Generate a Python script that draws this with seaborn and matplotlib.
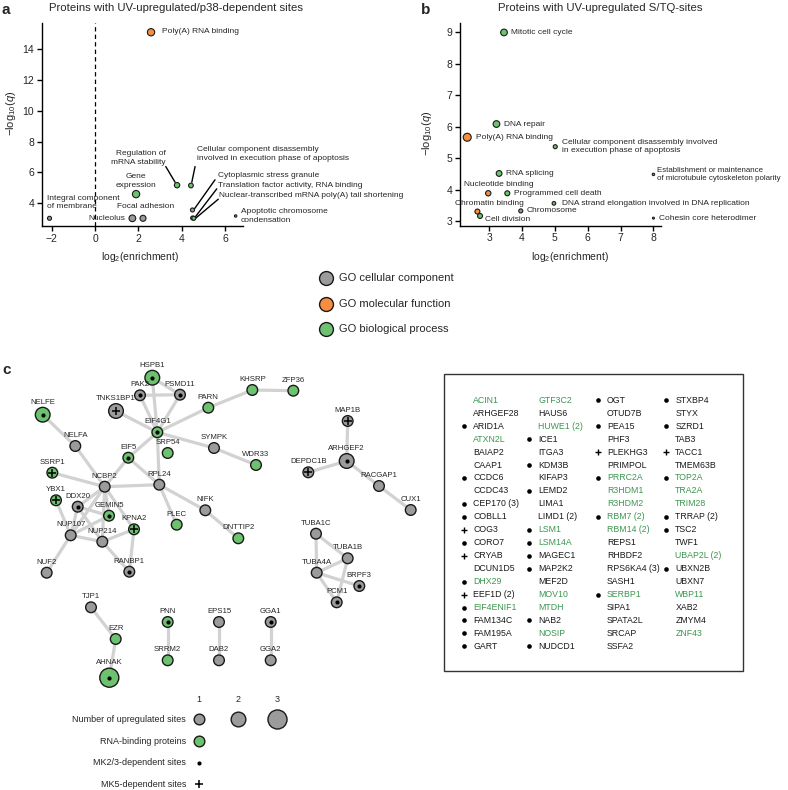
import matplotlib
matplotlib.use("Agg")
import numpy as np
import pandas as pd
import matplotlib.pyplot as plt
import seaborn as sns
from matplotlib.patches import Rectangle

sns.set_style("ticks")
plt.rcParams["font.family"] = ["Liberation Sans", "DejaVu Sans"]
plt.rcParams["mathtext.fontset"] = "custom"
plt.rcParams["mathtext.rm"] = "Liberation Sans"
plt.rcParams["mathtext.it"] = "Liberation Sans:italic"

GREY, ORANGE, GREEN = "#9b9b9b", "#f78d3f", "#6cc26f"
TXT_GREEN = "#3c9650"
GO_PAL = {"cc": GREY, "mf": ORANGE, "bp": GREEN}

# ---- panel a: UV-upregulated / p38-dependent sites
a_terms = ["Integral component of membrane", "Nucleolus", "Focal adhesion", "Gene expression",
           "Poly(A) RNA binding", "Regulation of mRNA stability", "Cellular component disassembly",
           "Cytoplasmic stress granule", "Translation factor activity, RNA binding",
           "Nuclear-transcribed mRNA poly(A) tail shortening", "Apoptotic chromosome condensation"]
a_enrich = [-2.1, 1.72, 2.21, 1.89, 2.58, 3.78, 4.42, 4.49, 4.50, 4.55, 6.48]
a_logq = [3.02, 3.02, 3.02, 4.59, 15.1, 5.17, 5.15, 3.56, 3.04, 3.02, 3.17]
a_type = ["cc", "cc", "cc", "bp", "mf", "bp", "bp", "cc", "mf", "bp", "bp"]
a_n = [14, 44, 35, 53, 53, 27, 20, 14, 14, 14, 3]

# ---- panel b: UV-upregulated S/TQ sites
b_terms = ["Mitotic cell cycle", "DNA repair", "Poly(A) RNA binding", "Cellular component disassembly",
           "Establishment or maintenance", "RNA splicing", "Nucleotide binding", "Programmed cell death",
           "DNA strand elongation", "Chromatin binding", "Cell division", "Chromosome",
           "Cohesin core heterodimer"]
b_enrich = [3.45, 3.22, 2.33, 5.01, 8.0, 3.30, 2.97, 3.55, 4.97, 2.64, 2.72, 3.96, 8.0]
b_logq = [8.99, 6.08, 5.66, 5.36, 4.48, 4.51, 3.88, 3.88, 3.56, 3.30, 3.16, 3.32, 3.09]
b_type = ["bp", "bp", "mf", "bp", "bp", "bp", "mf", "bp", "bp", "mf", "bp", "cc", "cc"]
b_n = [44, 44, 64, 14, 3, 32, 27, 23, 11, 23, 23, 14, 1]

# ---- panel c: network
node_names = ["HSPB1", "PAK2", "PSMD11", "TNKS1BP1", "NELFE", "EIF4G1", "PARN", "KHSRP", "ZFP36",
              "MAP1B", "NELFA", "EIF5", "SRP54", "SYMPK", "WDR33", "ARHGEF2", "DEPDC1B", "RACGAP1",
              "CUX1", "SSRP1", "NCBP2", "RPL24", "YBX1", "DDX20", "GEMIN5", "KPNA2", "NIFK", "PLEC",
              "DNTTIP2", "NUP107", "NUP214", "NUF2", "RANBP1", "TUBA1C", "TUBA1B", "TUBA4A", "BRPF3",
              "PCM1", "TJP1", "EZR", "AHNAK", "PNN", "SRRM2", "EPS15", "DAB2", "GGA1", "GGA2"]
node_x = [152.3, 140, 180, 116, 42.7, 157.3, 208.3, 252.3, 293.3, 347.7, 75.3, 128.3, 167.7, 214,
          256, 346.7, 308.3, 379, 410.7, 52.3, 104.7, 159.3, 56, 77.7, 109, 134, 205.3, 176.7,
          238.3, 70.7, 102.3, 46.7, 129.3, 316, 347.7, 316.7, 359.3, 336.7, 91, 115.7, 109.3,
          167.7, 167.7, 219, 219, 270.7, 270.7]
node_y = [377.7, 395.3, 394.7, 411, 414.7, 432.3, 407.7, 390, 390.7, 421, 446, 457.7, 453, 448,
          465, 461, 472.3, 486, 510, 472.7, 486.7, 484.7, 500.3, 506.7, 515.7, 529.3, 510.3, 524.7,
          538.3, 535.3, 541.7, 572.7, 571.7, 533.7, 558.3, 572.7, 586, 602.3, 607.3, 639, 677.7,
          622, 660.3, 622, 660.3, 622, 660.3]
node_rbp = [1, 0, 0, 0, 1, 1, 1, 1, 1, 0, 0, 1, 1, 0, 1, 0, 0, 0, 0, 1, 0, 0, 1, 0, 1, 1, 0, 1,
            1, 0, 0, 0, 0, 0, 0, 0, 0, 0, 0, 1, 1, 1, 1, 0, 0, 0, 0]
node_sites = [2, 1, 1, 2, 2, 1, 1, 1, 1, 1, 1, 1, 1, 1, 1, 2, 1, 1, 1, 1, 1, 1, 1, 1, 1, 1, 1, 1,
              1, 1, 1, 1, 1, 1, 1, 1, 1, 1, 1, 1, 3, 1, 1, 1, 1, 1, 1]
node_mk = ["dot", "dot", "dot", "plus", "dot", "dot", "", "", "", "plus", "", "dot", "", "", "",
           "dot", "plus", "", "", "plus", "", "", "plus", "dot", "dot", "plus", "", "", "", "", "",
           "", "dot", "", "", "", "dot", "dot", "", "", "dot", "dot", "", "", "", "dot", ""]
edges = [("HSPB1", "EIF4G1"), ("HSPB1", "PSMD11"), ("PAK2", "PSMD11"), ("PAK2", "EIF4G1"),
         ("PSMD11", "EIF4G1"), ("TNKS1BP1", "EIF4G1"), ("EIF4G1", "PARN"), ("PARN", "KHSRP"),
         ("KHSRP", "ZFP36"), ("EIF4G1", "SYMPK"), ("SYMPK", "WDR33"), ("EIF4G1", "RPL24"),
         ("EIF4G1", "EIF5"), ("EIF5", "NCBP2"), ("EIF5", "RPL24"), ("NELFE", "NELFA"),
         ("NELFA", "NCBP2"), ("SSRP1", "NCBP2"), ("NCBP2", "RPL24"), ("RPL24", "PLEC"),
         ("RPL24", "NIFK"), ("NIFK", "DNTTIP2"), ("NCBP2", "DDX20"), ("NCBP2", "NUP107"),
         ("NCBP2", "GEMIN5"), ("NCBP2", "NUP214"), ("NCBP2", "KPNA2"), ("DDX20", "NUP214"),
         ("DDX20", "GEMIN5"), ("DDX20", "NUP107"), ("NUP107", "NUP214"), ("NUP107", "GEMIN5"),
         ("YBX1", "NUP107"), ("NUP107", "NUF2"), ("NUP214", "KPNA2"), ("NUP214", "RANBP1"),
         ("KPNA2", "RANBP1"), ("MAP1B", "ARHGEF2"), ("ARHGEF2", "DEPDC1B"), ("ARHGEF2", "RACGAP1"),
         ("RACGAP1", "CUX1"), ("TUBA1C", "TUBA4A"), ("TUBA1C", "TUBA1B"), ("TUBA4A", "TUBA1B"),
         ("TUBA4A", "BRPF3"), ("TUBA4A", "PCM1"), ("TUBA1B", "PCM1"), ("TJP1", "EZR"),
         ("EZR", "AHNAK"), ("PNN", "SRRM2"), ("EPS15", "DAB2"), ("GGA1", "GGA2")]

# ---- panel c: proteins without network partners
box_genes = ["ACIN1", "ARHGEF28", "ARID1A", "ATXN2L", "BAIAP2", "CAAP1", "CCDC6", "CCDC43",
             "CEP170 (3)", "COBLL1", "COG3", "CORO7", "CRYAB", "DCUN1D5", "DHX29", "EEF1D (2)",
             "EIF4ENIF1", "FAM134C", "FAM195A", "GART",
             "GTF3C2", "HAUS6", "HUWE1 (2)", "ICE1", "ITGA3", "KDM3B", "KIFAP3", "LEMD2", "LIMA1",
             "LIMD1 (2)", "LSM1", "LSM14A", "MAGEC1", "MAP2K2", "MEF2D", "MOV10", "MTDH", "NAB2",
             "NOSIP", "NUDCD1",
             "OGT", "OTUD7B", "PEA15", "PHF3", "PLEKHG3", "PRIMPOL", "PRRC2A", "R3HDM1", "R3HDM2",
             "RBM7 (2)", "RBM14 (2)", "REPS1", "RHBDF2", "RPS6KA4 (3)", "SASH1", "SERBP1", "SIPA1",
             "SPATA2L", "SRCAP", "SSFA2",
             "STXBP4", "STYX", "SZRD1", "TAB3", "TACC1", "TMEM63B", "TOP2A", "TRA2A", "TRIM28",
             "TRRAP (2)", "TSC2", "TWF1", "UBAP2L (2)", "UBXN2B", "UBXN7", "WBP11", "XAB2",
             "ZMYM4", "ZNF43"]
box_mk = ["", "", "dot", "", "", "", "dot", "", "dot", "dot", "plus", "dot", "plus", "", "dot",
          "plus", "dot", "dot", "dot", "dot",
          "", "", "", "dot", "", "dot", "", "dot", "", "", "dot", "dot", "dot", "dot", "", "", "",
          "dot", "", "dot",
          "dot", "", "dot", "", "plus", "", "dot", "", "", "dot", "", "", "", "", "", "dot", "",
          "", "", "",
          "dot", "", "dot", "", "plus", "", "dot", "", "", "dot", "dot", "", "", "dot", "", "",
          "", "", ""]
box_rbp = [1, 0, 0, 1, 0, 0, 0, 0, 0, 0, 0, 0, 0, 0, 1, 0, 1, 0, 0, 0,
           1, 0, 1, 0, 0, 0, 0, 0, 0, 0, 1, 1, 0, 0, 0, 1, 1, 0, 1, 0,
           0, 0, 0, 0, 0, 0, 1, 1, 1, 1, 1, 0, 0, 0, 0, 1, 0, 0, 0, 0,
           0, 0, 0, 0, 0, 0, 1, 1, 1, 0, 0, 0, 1, 0, 0, 1, 0, 0, 1]

W, H = 788, 790
fig = plt.figure(figsize=(W / 100, H / 100), dpi=100)

# overlay axes in pixel units for panel c and legends
axc = fig.add_axes([0, 0, 1, 1])
axc.set_xlim(0, W)
axc.set_ylim(H, 0)
axc.axis("off")


def style_axes(ax):
    sns.despine(ax=ax)
    for s in ["left", "bottom"]:
        ax.spines[s].set_linewidth(1.0)
        ax.spines[s].set_color("black")
    ax.tick_params(length=3.5, width=1.0, labelsize=7.5, color="black", pad=2)


def go_scatter(ax, x, y, t, n):
    df = pd.DataFrame({"x": x, "y": y, "type": t, "n": n})
    sns.scatterplot(data=df, x="x", y="y", hue="type", size="n", palette=GO_PAL,
                    sizes=(2, 36), size_norm=(1, 70), edgecolor="#1a1a1a", linewidth=0.8,
                    legend=False, ax=ax, zorder=3, clip_on=False)


# ---------- panel a
axa = fig.add_axes([41.7 / W, 1 - 226 / H, 201.3 / W, 203 / H])
go_scatter(axa, a_enrich, a_logq, a_type, a_n)
axa.axvline(0, color="black", lw=0.9, ls=(0, (3.5, 2.5)), zorder=1)
axa.set_xlim(-2.46, 6.82)
axa.set_ylim(2.52, 15.7)
axa.set_xticks([-2, 0, 2, 4, 6])
axa.set_yticks([4, 6, 8, 10, 12, 14])
style_axes(axa)
axa.set_xlabel("log$_2$(enrichment)", fontsize=7.5)
axa.set_ylabel("\u2212log$_{10}$($q$)", fontsize=8)
axa.xaxis.set_label_coords(0.488, -0.12)
axa.yaxis.set_label_coords(-0.12, 0.557)
axa.set_title("Proteins with UV-upregulated/p38-dependent sites", fontsize=8.2, x=0.667, y=1.02)

fs = 6
axa.text(3.07, 15.14, "Poly(A) RNA binding", fontsize=fs, va="center")
axa.text(1.89, 5.45, "Gene\nexpression", fontsize=fs, ha="center", va="center", linespacing=1.3)
axa.text(-2.23, 4.04, "Integral component\nof membrane", fontsize=fs, va="center", linespacing=1.3)
axa.text(1.0, 3.78, "Focal adhesion", fontsize=fs, va="center")
axa.text(1.38, 3.02, "Nucleolus", fontsize=fs, va="center", ha="right")
axa.text(3.26, 6.93, "Regulation of\nmRNA stability", fontsize=fs, va="center", ha="right",
         linespacing=1.3)
axa.text(4.71, 7.19, "Cellular component disassembly\ninvolved in execution phase of apoptosis",
         fontsize=fs, va="center", linespacing=1.3)
axa.text(5.65, 5.78, "Cytoplasmic stress granule", fontsize=fs, va="center")
axa.text(5.65, 5.15, "Translation factor activity, RNA binding", fontsize=fs, va="center")
axa.text(5.73, 4.48, "Nuclear-transcribed mRNA poly(A) tail shortening", fontsize=fs, va="center",
         clip_on=False)
axa.text(6.71, 3.18, "Apoptotic chromosome\ncondensation", fontsize=fs, va="center", linespacing=1.3)
for (x0, y0), (x1, y1) in [((3.26, 6.38), (3.69, 5.36)), ((4.61, 6.38), (4.46, 5.36)),
                           ((5.53, 5.52), (4.58, 3.63)), ((5.61, 4.93), (4.61, 3.09)),
                           ((5.68, 4.26), (4.65, 3.04))]:
    axa.plot([x0, x1], [y0, y1], color="black", lw=1.0, zorder=2)

# ---------- panel b
axb = fig.add_axes([460 / W, 1 - 225.7 / H, 201 / W, 202.7 / H])
go_scatter(axb, b_enrich, b_logq, b_type, b_n)
axb.set_xlim(2.11, 8.23)
axb.set_ylim(2.85, 9.29)
axb.set_xticks([3, 4, 5, 6, 7, 8])
axb.set_yticks([3, 4, 5, 6, 7, 8, 9])
style_axes(axb)
axb.set_xlabel("log$_2$(enrichment)", fontsize=7.5)
axb.set_ylabel("\u2212log$_{10}$($q$)", fontsize=8)
axb.xaxis.set_label_coords(0.547, -0.12)
axb.yaxis.set_label_coords(-0.13, 0.457)
axb.set_title("Proteins with UV-upregulated S/TQ-sites", fontsize=8.2, x=0.70, y=1.02)

b_lbl = [(3.66, 8.99, "Mitotic cell cycle", "left", fs), (3.44, 6.08, "DNA repair", "left", fs),
         (2.59, 5.66, "Poly(A) RNA binding", "left", fs),
         (5.22, 5.36, "Cellular component disassembly involved\nin execution phase of apoptosis",
          "left", fs),
         (8.11, 4.47, "Establishment or maintenance\nof microtubule cytoskeleton polarity",
          "left", 5.7),
         (3.51, 4.51, "RNA splicing", "left", fs), (3.28, 4.16, "Nucleotide binding", "center", fs),
         (3.75, 3.88, "Programmed cell death", "left", fs),
         (5.22, 3.56, "DNA strand elongation involved in DNA replication", "left", fs),
         (3.02, 3.54, "Chromatin binding", "center", fs), (2.87, 3.06, "Cell division", "left", fs),
         (4.14, 3.32, "Chromosome", "left", fs),
         (8.18, 3.09, "Cohesin core heterodimer", "left", fs)]
for x, y, s, ha, f in b_lbl:
    axb.text(x, y, s, fontsize=f, va="center", ha=ha, linespacing=1.3, clip_on=False)

# panel letters
for x, y, s in [(2, 10, "a"), (421, 10, "b"), (2, 370, "c")]:
    axc.text(x, y, s, fontsize=11, fontweight="bold", va="center", ha="left")

# GO legend
for i, (lab, c) in enumerate([("GO cellular component", GREY), ("GO molecular function", ORANGE),
                              ("GO biological process", GREEN)]):
    yy = 278.3 + i * 25.5
    axc.scatter([325.7], [yy], s=100, color=c, edgecolor="#1a1a1a", linewidth=1.0)
    axc.text(339, yy, lab, fontsize=8, va="center")

# ---------- panel c network
pos = {n: (x, y) for n, x, y in zip(node_names, node_x, node_y)}
for u, v in edges:
    axc.plot([pos[u][0], pos[v][0]], [pos[u][1], pos[v][1]], color="#d2d2d2", lw=2.3,
             zorder=1, solid_capstyle="round")

nodes = pd.DataFrame({"name": node_names, "x": node_x, "y": node_y, "rbp": node_rbp,
                      "sites": node_sites, "mk": node_mk})
site_s = {1: 59, 2: 112, 3: 188}
sns.scatterplot(data=nodes, x="x", y="y", hue="rbp", size="sites", palette={0: GREY, 1: GREEN},
                sizes=site_s, edgecolor="#1a1a1a", linewidth=1.0, legend=False, ax=axc, zorder=3)
dots = nodes[nodes.mk == "dot"]
pluses = nodes[nodes.mk == "plus"]
axc.scatter(dots.x, dots.y, s=9, color="black", zorder=4, linewidth=0)
axc.scatter(pluses.x, pluses.y, s=26, marker="+", color="black", linewidth=1.1, zorder=4)
for _, r in nodes.iterrows():
    rad = np.sqrt(site_s[r.sites]) / 0.72 / 2
    axc.text(r.x, r.y - rad - 5.3, r["name"], fontsize=5.6, ha="center", va="center", zorder=5)
axc.set_xlim(0, W)
axc.set_ylim(H, 0)
axc.axis("off")

# node legend
for i, k in enumerate([1, 2, 3]):
    xx = 199.3 + i * 39
    axc.scatter([xx], [719], s=site_s[k], color=GREY, edgecolor="#1a1a1a", linewidth=1.0)
    axc.text(xx, 699, str(k), fontsize=6.5, ha="center", va="center")
axc.scatter([199.3], [741], s=site_s[1], color=GREEN, edgecolor="#1a1a1a", linewidth=1.0)
axc.scatter([199.3], [762.7], s=9, color="black", linewidth=0)
axc.scatter([199.3], [784.3], s=26, marker="+", color="black", linewidth=1.1)
for yy, lab in [(719, "Number of upregulated sites"), (741, "RNA-binding proteins"),
                (762.7, "MK2/3-dependent sites"), (784.3, "MK5-dependent sites")]:
    axc.text(186, yy, lab, fontsize=6.5, ha="right", va="center")

# boxed gene list
axc.add_patch(Rectangle((444.3, 374), 298.4, 297, fill=False, edgecolor="#333333", lw=1.0))
col_mk_x = [464.3, 529.3, 598.0, 666.3]
for i, (g, m, rb) in enumerate(zip(box_genes, box_mk, box_rbp)):
    col, row = divmod(i, 20)
    yy = 400.3 + row * 12.95
    xm = col_mk_x[col]
    axc.text(xm + 9, yy, g, fontsize=6.3, va="center", color=TXT_GREEN if rb else "#1a1a1a")
    if m == "dot":
        axc.scatter([xm], [yy], s=11, color="black", linewidth=0)
    elif m == "plus":
        axc.scatter([xm], [yy], s=24, marker="+", color="black", linewidth=1.0)

fig.savefig("out.png", dpi=100)
